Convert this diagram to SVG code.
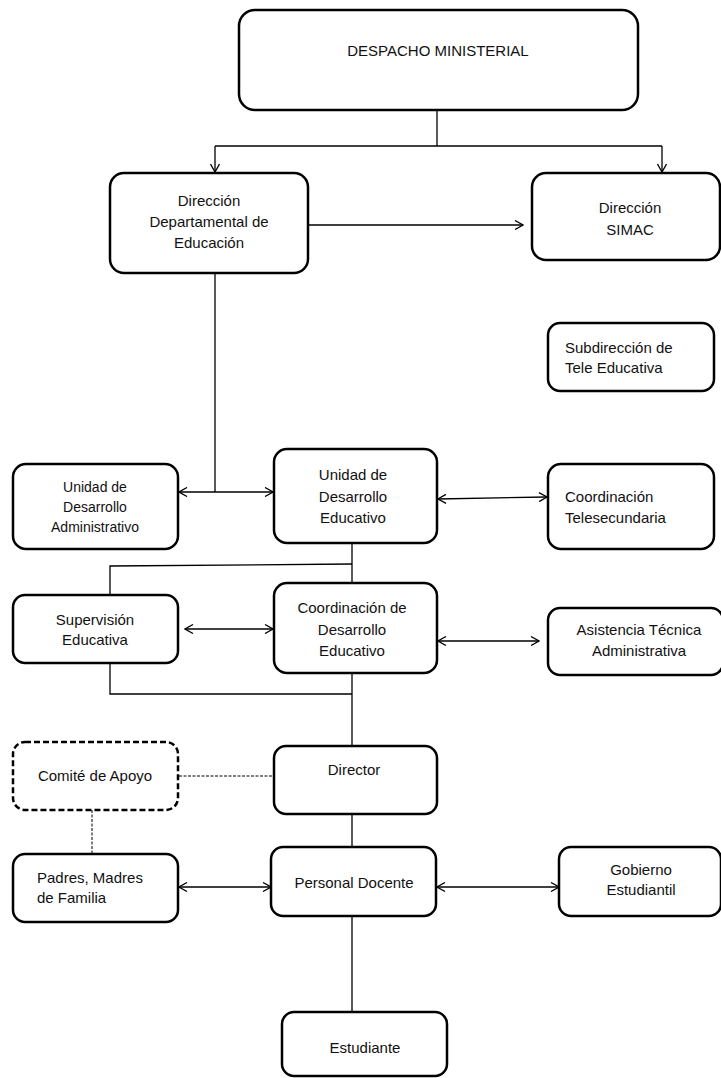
<svg xmlns="http://www.w3.org/2000/svg" width="721" height="1078" viewBox="0 0 721 1078">
<style>
.box{fill:#fff;stroke:#000;stroke-width:2.5}
.dbox{fill:#fff;stroke:#000;stroke-width:2.5;stroke-dasharray:6 3}
.ln{fill:none;stroke:#000;stroke-width:1.3}
.dl{fill:none;stroke:#000;stroke-width:1;stroke-dasharray:3 1.5}
text{font-family:"Liberation Sans",Arial,sans-serif;font-size:15px;fill:#111}
.c{text-anchor:middle}
</style>
<defs>
<marker id="ah" viewBox="0 0 10 10" refX="9" refY="5" markerWidth="10" markerHeight="10" markerUnits="userSpaceOnUse" orient="auto-start-reverse">
<path d="M1,0.5 L9,5 L1,9.5" fill="none" stroke="#000" stroke-width="1.3"/>
</marker>
</defs>
<g id="connectors">
<path class="ln" d="M437,110 V146"/>
<path class="ln" d="M215,146 H662"/>
<path class="ln" d="M215,146 V172" marker-end="url(#ah)"/>
<path class="ln" d="M662,146 V172" marker-end="url(#ah)"/>
<path class="ln" d="M308,225 H523" marker-end="url(#ah)"/>
<path class="ln" d="M215,273 V492"/>
<path class="ln" d="M179,492 H273" marker-start="url(#ah)" marker-end="url(#ah)"/>
<path class="ln" d="M438,499 L547,497" marker-start="url(#ah)" marker-end="url(#ah)"/>
<path class="ln" d="M352,543 V583"/>
<path class="ln" d="M352,564 L110,566 V595"/>
<path class="ln" d="M185,629 H273" marker-start="url(#ah)" marker-end="url(#ah)"/>
<path class="ln" d="M438,641 H539" marker-start="url(#ah)" marker-end="url(#ah)"/>
<path class="ln" d="M110,663 V694 H352"/>
<path class="ln" d="M352,673 V745"/>
<path class="dl" d="M179,776 H274"/>
<path class="dl" d="M92,810 V854"/>
<path class="ln" d="M352,814 V847"/>
<path class="ln" d="M179,887 H271" marker-start="url(#ah)" marker-end="url(#ah)"/>
<path class="ln" d="M437,887 H559" marker-start="url(#ah)" marker-end="url(#ah)"/>
<path class="ln" d="M352,916 V1012"/>
</g>
<g id="despacho">
<rect class="box" x="239" y="10" width="399" height="100" rx="16"/>
<text class="c" x="438" y="56">DESPACHO MINISTERIAL</text>
</g>
<g id="dir-departamental">
<rect class="box" x="110" y="173" width="198" height="100" rx="14"/>
<text class="c" x="209" y="206">Dirección</text>
<text class="c" x="209" y="227">Departamental de</text>
<text class="c" x="209" y="248">Educación</text>
</g>
<g id="dir-simac">
<rect class="box" x="532" y="173" width="188" height="87" rx="14"/>
<text class="c" x="630" y="213">Dirección</text>
<text class="c" x="630" y="235">SIMAC</text>
</g>
<g id="subdireccion">
<rect class="box" x="548" y="323" width="166" height="68" rx="12"/>
<text x="565" y="353">Subdirección de</text>
<text x="565" y="373">Tele Educativa</text>
</g>
<g id="uda">
<rect class="box" x="13" y="464" width="165" height="85" rx="13"/>
<text class="c" x="95" y="492" style="font-size:14px">Unidad de</text>
<text class="c" x="95" y="512" style="font-size:14px">Desarrollo</text>
<text class="c" x="95" y="532" style="font-size:14px">Administrativo</text>
</g>
<g id="ude">
<rect class="box" x="274" y="449" width="163" height="94" rx="13"/>
<text class="c" x="353" y="480">Unidad de</text>
<text class="c" x="353" y="502">Desarrollo</text>
<text class="c" x="353" y="523">Educativo</text>
</g>
<g id="telesecundaria">
<rect class="box" x="548" y="464" width="166" height="85" rx="13"/>
<text x="565" y="502">Coordinación</text>
<text x="565" y="523">Telesecundaria</text>
</g>
<g id="supervision">
<rect class="box" x="13" y="595" width="165" height="68" rx="12"/>
<text class="c" x="95" y="625">Supervisión</text>
<text class="c" x="95" y="645">Educativa</text>
</g>
<g id="cde">
<rect class="box" x="274" y="583" width="163" height="90" rx="13"/>
<text class="c" x="352" y="613">Coordinación de</text>
<text class="c" x="352" y="635">Desarrollo</text>
<text class="c" x="352" y="656">Educativo</text>
</g>
<g id="asistencia">
<rect class="box" x="548" y="608" width="175" height="67" rx="12"/>
<text class="c" x="639" y="635">Asistencia Técnica</text>
<text class="c" x="639" y="656">Administrativa</text>
</g>
<g id="comite">
<rect class="dbox" x="13" y="742" width="165" height="68" rx="12"/>
<text class="c" x="95" y="781">Comité de Apoyo</text>
</g>
<g id="director">
<rect class="box" x="274" y="746" width="163" height="68" rx="12"/>
<text class="c" x="354" y="775">Director</text>
</g>
<g id="padres">
<rect class="box" x="13" y="854" width="165" height="68" rx="12"/>
<text x="37" y="883">Padres, Madres</text>
<text x="37" y="903">de Familia</text>
</g>
<g id="personal-docente">
<rect class="box" x="271" y="847" width="165" height="69" rx="12"/>
<text class="c" x="354" y="888">Personal Docente</text>
</g>
<g id="gobierno">
<rect class="box" x="559" y="847" width="162" height="69" rx="12"/>
<text class="c" x="641" y="875">Gobierno</text>
<text class="c" x="641" y="895">Estudiantil</text>
</g>
<g id="estudiante">
<rect class="box" x="282" y="1012" width="165" height="64" rx="12"/>
<text class="c" x="365" y="1053">Estudiante</text>
</g>
</svg>
